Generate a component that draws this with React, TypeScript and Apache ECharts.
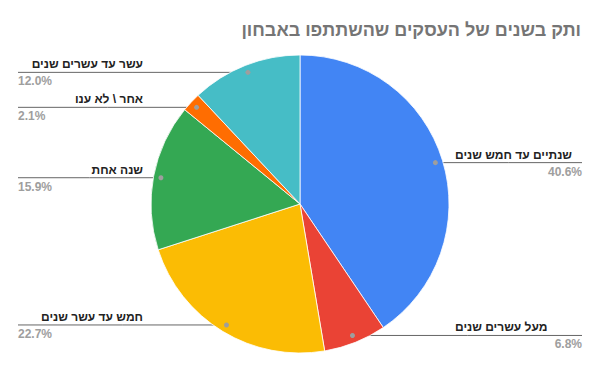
import React, { useEffect, useRef } from "react";
import * as echarts from "echarts";

const titleText = "ותק בשנים של העסקים שהשתתפו באבחון";
const categories = [
  "שנתיים עד חמש שנים",
  "מעל עשרים שנים",
  "חמש עד עשר שנים",
  "שנה אחת",
  "אחר \\ לא ענו",
  "עשר עד עשרים שנים",
];
const values = [40.6, 6.8, 22.7, 15.9, 2.1, 12.0];
const colors = ["#4285f4", "#ea4335", "#fbbc04", "#34a853", "#ff6d01", "#46bdc6"];

const CX = 300;
const CY = 204;
const R = 149;
const DOT_R = 0.95 * R;
const LEFT_EDGE = 18;
const LEFT_TEXT_END = 143;
const RIGHT_TEXT_START = 455;
const RIGHT_EDGE = 582;
const FONT = "'Liberation Sans', Arial, sans-serif";

function midAngles(): number[] {
  const total = values.reduce((a, b) => a + b, 0);
  let acc = 0;
  return values.map((v) => {
    const mid = ((acc + v / 2) / total) * Math.PI * 2;
    acc += v;
    return mid;
  });
}

export default function App() {
  const ref = useRef<HTMLDivElement>(null);
  useEffect(() => {
    if (!ref.current) return;
    const chart = echarts.init(ref.current, undefined, { renderer: "svg" });
    const mids = midAngles();
    const dots = mids.map((a) => [CX + DOT_R * Math.sin(a), CY - DOT_R * Math.cos(a)]);
    const isRight = mids.map((a) => Math.sin(a) > 0);

    const data = categories.map((name, i) => {
      const right = isRight[i];
      return {
        name,
        value: values[i],
        itemStyle: { color: colors[i] },
        label: {
          width: right ? RIGHT_EDGE - RIGHT_TEXT_START : LEFT_TEXT_END - LEFT_EDGE,
          rich: {
            n: {
              fontFamily: FONT,
              fontSize: 12,
              fontWeight: "bold",
              color: "#222222",
              align: right ? "left" : "right",
              lineHeight: 17,
            },
            p: {
              fontFamily: FONT,
              fontSize: 12,
              fontWeight: "bold",
              color: "#9e9e9e",
              align: right ? "right" : "left",
              lineHeight: 17,
            },
          },
        },
      };
    });

    chart.setOption({
      animation: false,
      backgroundColor: "#ffffff",
      title: {
        text: titleText,
        right: 14,
        top: 16,
        textStyle: {
          fontFamily: FONT,
          fontSize: 18,
          fontWeight: "bold",
          color: "#757575",
        },
      },
      graphic: dots.map((d) => ({
        type: "circle",
        z: 100,
        shape: { cx: d[0], cy: d[1], r: 2.5 },
        style: { fill: "#9e9e9e" },
      })),
      series: [
        {
          type: "pie",
          center: [CX, CY],
          radius: [0, R],
          startAngle: 90,
          clockwise: true,
          avoidLabelOverlap: false,
          itemStyle: { borderColor: "#ffffff", borderWidth: 0.8 },
          emphasis: { disabled: true },
          label: {
            show: true,
            position: "outside",
            formatter: (p: any) => `{n|${p.name}}\n{p|${Number(p.value).toFixed(1)}%}`,
          },
          labelLine: {
            show: true,
            lineStyle: { color: "#666666", width: 1 },
          },
          labelLayout: (params: any) => {
            const i = params.dataIndex;
            const d = dots[i];
            const right = isRight[i];
            const edge = right ? RIGHT_EDGE : LEFT_EDGE;
            return {
              x: right ? RIGHT_TEXT_START : LEFT_EDGE,
              y: d[1] + 0.5,
              align: "left",
              verticalAlign: "middle",
              labelLinePoints: [
                [d[0], d[1]],
                [(d[0] + edge) / 2, d[1]],
                [edge, d[1]],
              ],
            };
          },
          data,
        },
      ],
    });
    return () => chart.dispose();
  }, []);
  return (
    <div
      ref={ref}
      style={{ position: "fixed", left: 0, top: 0, width: 600, height: 371 }}
    />
  );
}
